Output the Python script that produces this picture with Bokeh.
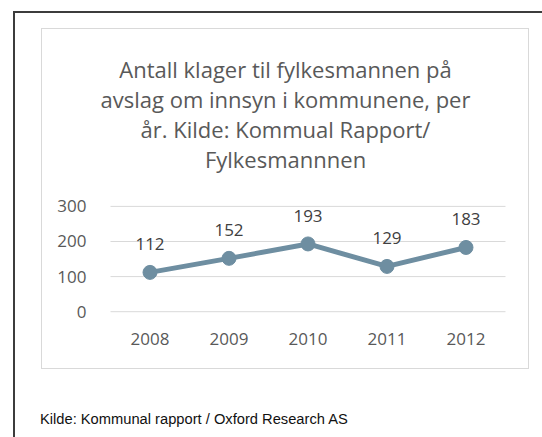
from bokeh.plotting import figure
from bokeh.layouts import column
from bokeh.models import FactorRange, Range1d, FixedTicker, Label, ColumnDataSource, Div
from bokeh.core.properties import value
from bokeh.embed import file_html
from bokeh.resources import INLINE

# ---- data ----
years = ["2008", "2009", "2010", "2011", "2012"]
counts = [112, 152, 193, 129, 183]
y_ticks = [0, 100, 200, 300]
title_lines = [
    "Antall klager til fylkesmannen på",
    "avslag om innsyn i kommunene, per",
    "år. Kilde: Kommual Rapport/",
    "Fylkesmannnen",
]
footer_text = "Kilde: Kommunal rapport / Oxford Research AS"

LINE_COLOR = "#6e8ea1"
GRID_COLOR = "#d9d9d9"
FONT = "Open Sans"

src = ColumnDataSource(dict(year=years, count=counts, label=[str(c) for c in counts]))
grid_src = ColumnDataSource(dict(x0=[0] * len(y_ticks), x1=[len(years)] * len(y_ticks),
                                 y=y_ticks))

p = figure(
    width=542, height=400,
    x_range=FactorRange(factors=years, range_padding=0.076),
    y_range=Range1d(-19.4, 772.6),
    output_backend="svg", toolbar_location=None,
    min_border_left=95, min_border_right=22,
    min_border_top=40, min_border_bottom=82,
)
p.outline_line_color = None
p.background_fill_color = None
p.border_fill_color = None

# horizontal gridlines across the category area only
p.segment(x0="x0", x1="x1", y0="y", y1="y", source=grid_src,
          line_color=GRID_COLOR, line_width=1)

p.line("year", "count", source=src, line_width=5, line_color=LINE_COLOR)
p.scatter("year", "count", source=src, size=14, fill_color=LINE_COLOR, line_color=LINE_COLOR)
p.text("year", "count", text="label", source=src, text_align="center",
       text_baseline="alphabetic", y_offset=-28,
       text_font=value(FONT), text_font_size="17px", text_color="#404040")

# axes
for ax in (p.xaxis, p.yaxis):
    ax.axis_line_color = None
    ax.major_tick_line_color = None
    ax.minor_tick_line_color = None
    ax.major_label_text_font = FONT
    ax.major_label_text_font_size = "17px"
    ax.major_label_text_color = "#595959"
p.xaxis.major_label_standoff = 8
p.yaxis.major_label_standoff = 3
p.yaxis.ticker = FixedTicker(ticks=y_ticks)
p.xgrid.grid_line_color = None
p.ygrid.grid_line_color = None

# title (screen units: x from frame left, y up from frame bottom)
for i, t in enumerate(title_lines):
    p.add_layout(Label(x=190, y=318 - (68 + 30.3 * i), x_units="screen", y_units="screen",
                       text=t, text_align="center", text_baseline="alphabetic",
                       text_font=FONT, text_font_size="22px", text_color="#595959"))

footer = Div(
    text=('<div style="padding:9px 0 0 40px; font-family:\'Liberation Sans\'; '
          'font-size:14.7px; line-height:20px; color:#111111; white-space:nowrap">'
          + footer_text + '</div>'),
    width=542, height=37, margin=(0, 0, 0, 0),
)

dark = "linear-gradient(#3c3c3c,#3c3c3c)"
light = "linear-gradient(#d9d9d9,#d9d9d9)"
layout = column(
    p, footer, spacing=0,
    styles={
        "background-color": "white",
        "background-image": ", ".join([dark, dark, light, light, light, light]),
        "background-repeat": "no-repeat",
        "background-position": "13px 11px, 13px 11px, 41px 28px, 41px 368px, 41px 28px, 528px 28px",
        "background-size": "529px 2px, 2px 426px, 488px 1px, 488px 1px, 1px 341px, 1px 341px",
    },
)

open("out.html", "w").write(file_html(layout, INLINE))
